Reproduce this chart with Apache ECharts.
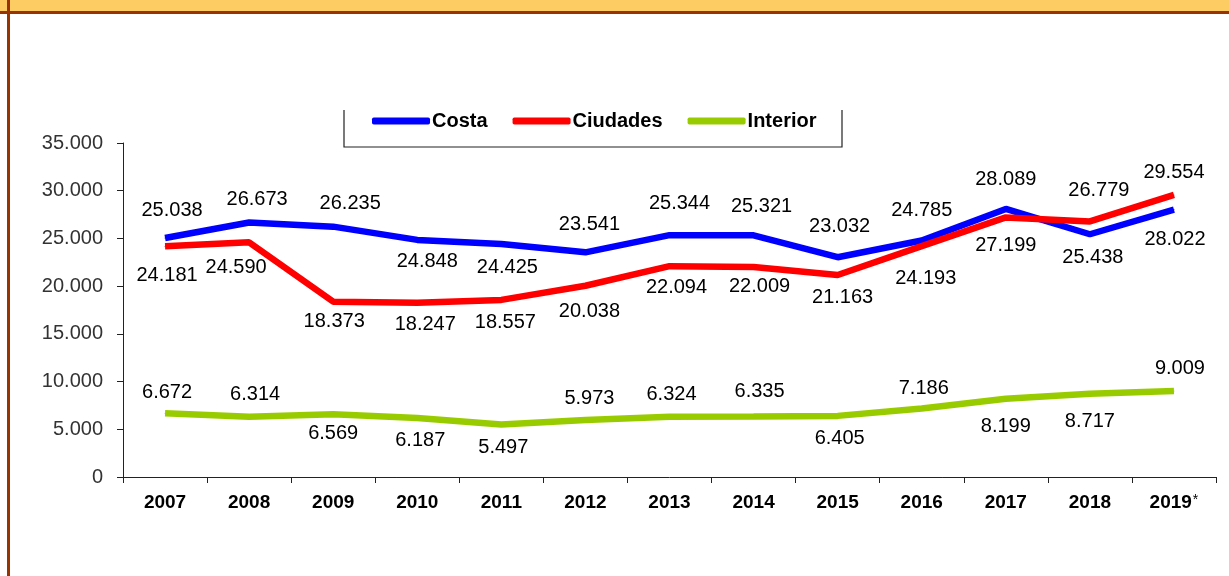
<!DOCTYPE html>
<html>
<head>
<meta charset="utf-8">
<title>Costa / Ciudades / Interior</title>
<script src="https://cdn.jsdelivr.net/npm/echarts@6/dist/echarts.min.js"></script>
<style>
    html, body { margin: 0; padding: 0; background: #fff; }
    #chart { width: 1229px; height: 576px; }
</style>
</head>
<body>
<div id="chart"></div>
<script>
    // data
    const years = ['2007', '2008', '2009', '2010', '2011', '2012', '2013', '2014', '2015', '2016', '2017', '2018', '2019*'];
    const costa = [25038, 26673, 26235, 24848, 24425, 23541, 25344, 25321, 23032, 24785, 28089, 25438, 28022];
    const ciudades = [24181, 24590, 18373, 18247, 18557, 20038, 22094, 22009, 21163, 24193, 27199, 26779, 29554];
    const interior = [6672, 6314, 6569, 6187, 5497, 5973, 6324, 6335, 6405, 7186, 8199, 8717, 9009];
    const yTicks = [0, 5000, 10000, 15000, 20000, 25000, 30000, 35000];

    // where each value label sits relative to its point (px)
    const costaLabelOffset = [[7,-28],[8,-23],[17,-23],[10,22],[6,24],[4,-28],[10,-32],[8,-29],[2,-31],[0,-30],[0,-29],[3,23],[1,30]];
    const ciudadesLabelOffset = [[2,29],[-13,25],[1,20],[8,22],[4,23],[4,26],[7,21],[6,20],[5,22],[4,32],[0,28],[9,-31],[0,-22]];
    const interiorLabelOffset = [[2,-21],[6,-22],[0,19],[3,23],[2,23],[4,-22],[2,-22],[6,-25],[2,23],[2,-20],[0,28],[0,28],[6,-23]];

    const FONT = 'Liberation Sans, Arial, sans-serif';

    function fmt(v) {
        // thousands separator is a dot
        return String(v).replace(/\B(?=(\d{3})+(?!\d))/g, '.');
    }

    function withLabels(values, offsets) {
        return values.map(function (v, i) {
            return { value: v, label: { offset: offsets[i] } };
        });
    }

    function lineSeries(name, color, values, offsets) {
        return {
            name: name,
            type: 'line',
            symbol: 'circle',
            symbolSize: 1,
            showSymbol: true,
            animation: false,
            itemStyle: { color: color },
            lineStyle: { color: color, width: 6.5 },
            label: {
                show: true,
                position: 'inside',
                align: 'center',
                verticalAlign: 'middle',
                color: '#000',
                fontFamily: FONT,
                fontSize: 20,
                formatter: function (p) { return fmt(p.value); }
            },
            emphasis: { disabled: true },
            data: withLabels(values, offsets)
        };
    }

    const chart = echarts.init(document.getElementById('chart'));
    chart.setOption({
        backgroundColor: '#fff',
        animation: false,
        graphic: [
            { type: 'rect', shape: { x: 0, y: 0, width: 1229, height: 11 }, style: { fill: '#FDCD63' }, silent: true },
            { type: 'rect', shape: { x: 0, y: 11, width: 1229, height: 3 }, style: { fill: '#993300' }, silent: true },
            { type: 'rect', shape: { x: 7, y: 0, width: 3, height: 576 }, style: { fill: '#993300' }, silent: true },
            {
                type: 'polyline',
                shape: { points: [[344, 110], [344, 147], [842, 147], [842, 110]] },
                style: { stroke: '#222', lineWidth: 1.2, fill: null },
                silent: true
            }
        ],
        legend: {
            left: 367,
            top: 106,
            icon: 'roundRect',
            itemWidth: 58,
            itemHeight: 7,
            itemGap: 25,
            textStyle: {
                color: '#000',
                fontFamily: FONT,
                fontSize: 20,
                fontWeight: 'bold',
                padding: [0, 0, 0, -3]
            },
            selectedMode: false,
            data: ['Costa', 'Ciudades', 'Interior']
        },
        grid: {
            left: 123,
            right: 13,
            top: 143,
            bottom: 99
        },
        xAxis: {
            type: 'category',
            data: years,
            boundaryGap: true,
            axisLine: { lineStyle: { color: '#222', width: 1 } },
            axisTick: { show: true, interval: 0, length: 6, lineStyle: { color: '#222' } },
            axisLabel: {
                interval: 0,
                margin: 16,
                color: '#000',
                fontFamily: FONT,
                fontSize: 19,
                fontWeight: 'bold',
                formatter: function (v) {
                    return v.endsWith('*') ? v.slice(0, -1) + '{s|*}' : v;
                },
                rich: {
                    s: { fontFamily: FONT, fontSize: 14, fontWeight: 'normal', color: '#000', verticalAlign: 'top', padding: [0, 0, 6, 1] }
                }
            },
            splitLine: { show: false }
        },
        yAxis: {
            type: 'value',
            min: yTicks[0],
            max: yTicks[yTicks.length - 1],
            interval: yTicks[1] - yTicks[0],
            axisLine: { show: true, lineStyle: { color: '#222', width: 1 } },
            axisTick: { show: true, length: 6, lineStyle: { color: '#222' } },
            axisLabel: {
                margin: 20,
                color: '#333',
                fontFamily: FONT,
                fontSize: 20,
                formatter: function (v) { return fmt(v); }
            },
            splitLine: { show: false }
        },
        series: [
            lineSeries('Costa', '#0000FF', costa, costaLabelOffset),
            lineSeries('Ciudades', '#FF0000', ciudades, ciudadesLabelOffset),
            lineSeries('Interior', '#99CC00', interior, interiorLabelOffset)
        ]
    });
</script>
</body>
</html>
